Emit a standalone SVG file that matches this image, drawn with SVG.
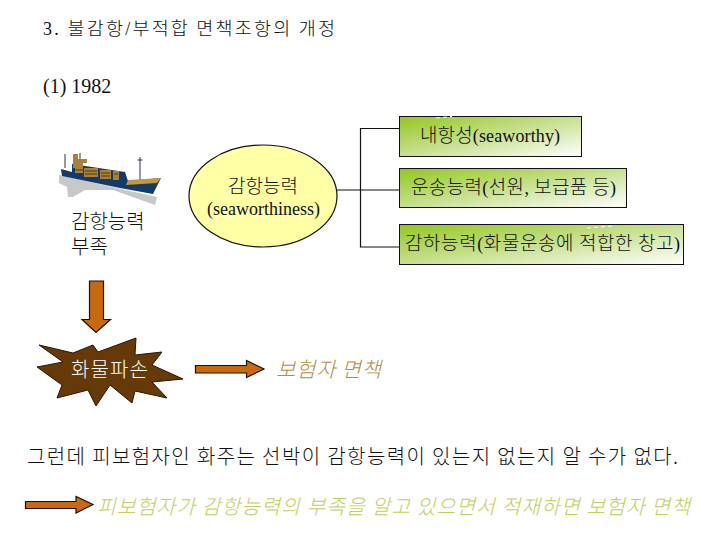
<svg xmlns="http://www.w3.org/2000/svg" width="720" height="540" viewBox="0 0 720 540">
<style>
text{font-family:"Liberation Serif","Noto Sans CJK KR",serif;fill:#111;font-size:20px}
.k{font-family:"Noto Sans CJK KR","Liberation Serif",sans-serif;font-weight:300}
.box{fill:url(#g);stroke:#111;stroke-width:1}
.arrow{fill:#c8690f;stroke:#1a1000;stroke-width:1.2}
.line{fill:none;stroke:#111;stroke-width:1.2}
.dash{stroke:#fff;stroke-width:1;stroke-dasharray:4 3;fill:none}
</style>
<defs>
<linearGradient id="g" x1="0" y1="0" x2="1" y2="1">
<stop offset="0" stop-color="#93c71f"/><stop offset="0.5" stop-color="#c8e090"/><stop offset="1" stop-color="#ffffff"/>
</linearGradient>
</defs>
<rect width="720" height="540" fill="#fff"/>
<text x="43" y="35" textLength="292" style="font-size:18px">3. <tspan class="k" style="font-size:18.500px">불감항</tspan>/<tspan class="k" style="font-size:18.500px">부적합 면책조항의 개정</tspan></text>
<text x="43" y="93" style="font-size:20px">(1) 1982</text>
<g id="connectors">
<path class="line" d="M400 128.500H360.500V247H400"/>
<path class="line" d="M337 190H400"/>
</g>
<g id="ship">
<path fill="#c8c8c8" d="M59 175L157 197L155 205L113 190L85 190L73 197L68 197L67 187L59 183Z"/>
<path stroke="#334" stroke-width="1" d="M65 154V168M80 153V162M140 157V180M137.500 160H142.500"/>
<path fill="#123a6b" d="M72 164L125 172L128 181L161 178L153 194L120 188L62 176L61 169L72 172Z"/>
<path fill="#c09a3a" d="M128 180L161 178L157 183L126 185Z"/>
<path fill="#a88238" d="M73 154H78V159H87V163H83V168H73Z"/>
<path fill="#a88238" d="M75 167H83V173H75ZM84 168H98V177H84ZM100 170H111V179H100ZM113 171H119V180H113Z"/>
<path stroke="#4a3a20" stroke-width="1" fill="none" d="M75 170H83M85 171H97M85 174H97M101 173H110M101 176H110M114 174H118"/>
</g>
<g id="label-ship"><text class="k"><tspan x="71" y="229">감항능력</tspan><tspan x="71" y="254">부족</tspan></text></g>
<g id="ellipse"><ellipse cx="263" cy="196" rx="74" ry="51" fill="#ffffa6" stroke="#111" stroke-width="1.200"/>
<text class="k" x="263" y="193" text-anchor="middle" style="font-size:19px">감항능력</text>
<text x="263.500" y="215" text-anchor="middle" style="font-size:18px">(seaworthiness)</text></g>
<g id="box1"><rect class="box" x="399.500" y="116.500" width="182" height="40"/>
<path class="dash" d="M436 118L452 116.500"/>
<text x="420" y="142" textLength="140" style="font-size:18px"><tspan class="k" style="font-size:19px">내항성</tspan>(seaworthy)</text></g>
<g id="box2"><rect class="box" x="399.500" y="168.500" width="227" height="39"/>
<text x="411" y="194" textLength="205" style="font-size:18px"><tspan class="k" style="font-size:19px">운송능력</tspan>(<tspan class="k" style="font-size:19px">선원</tspan>, <tspan class="k" style="font-size:19px">보급품 등</tspan>)</text></g>
<g id="box3"><rect class="box" x="399.500" y="224.500" width="284" height="40"/>
<path class="dash" d="M587 228L612 226"/>
<text x="405" y="250" textLength="275" style="font-size:18px"><tspan class="k" style="font-size:19px">감하능력</tspan>(<tspan class="k" style="font-size:19px">화물운송에 적합한 창고</tspan>)</text></g>
<g id="arrow-down"><path class="arrow" d="M89.500 281H103.500V319.500H110.500L96 332.500L82 319.500H89.500Z"/></g>
<g id="star"><path fill="#663a08" stroke="#2a1600" stroke-width="1" d="M39 345L73 353L93 345L98 352L136 338L135 355L162 352L152 365L183 379L152 382L167 398L135 391L132 403L110 385L96 406L88 390L57 398L62 385L37 367L63 362Z"/>
<text class="k" x="71" y="377" textLength="77" style="fill:#fff">화물파손</text></g>
<g id="arrow-right"><path class="arrow" d="M195.500 365.500H246.500V360.500L264 369L246.500 377.500V373H195.500Z"/></g>
<g id="label-exempt"><text class="k" x="276" y="377" textLength="105" font-style="italic" style="fill:#b58d42;font-size:21px">보험자 면책</text></g>
<g id="note"><text class="k" x="27" y="464" textLength="651">그런데 피보험자인 화주는 선박이 감항능력이 있는지 없는지 알 수가 없다.</text></g>
<g id="arrow-bottom"><path class="arrow" d="M25.500 501.500H76V496.500L93 504.500L76 513V508.500H25.500Z"/></g>
<g id="conclusion"><text class="k" x="97" y="514" textLength="593" font-style="italic" style="fill:#c5cd5c;font-size:20.500px">피보험자가 감항능력의 부족을 알고 있으면서 적재하면 보험자 면책</text></g>
</svg>
